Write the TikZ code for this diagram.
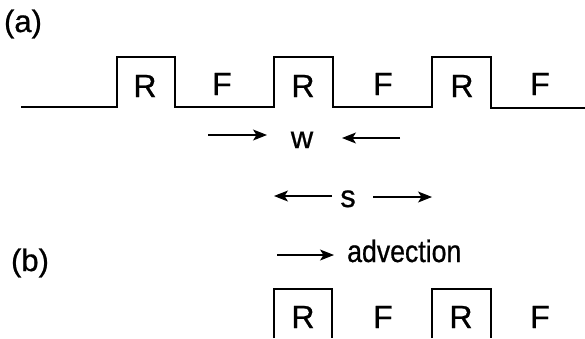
\documentclass[tikz,border=0pt]{standalone}
\usepackage{fontspec}
\setmainfont{Liberation Sans}
\newfontfamily\heavy{Liberation Sans}[FakeBold=0.7]
\newfontfamily\heavynarrow{Liberation Sans}[FakeBold=0.7,FakeStretch=0.86]
\usetikzlibrary{arrows.meta}
\begin{document}
\begin{tikzpicture}[x=1pt,y=-1pt,
  lbl/.style={inner sep=0pt,anchor=base,font=\heavy\fontsize{32}{34}\selectfont},
  sm/.style={inner sep=0pt,anchor=base,font=\heavy\fontsize{31}{33}\selectfont},
  wave/.style={line width=1.5pt,line join=miter},
  arr/.style={line width=1.1pt,-{Stealth[length=14pt,width=11pt,inset=3.5pt]}}]
\useasboundingbox (0,0) rectangle (585,338);
\fill[white] (0,0) rectangle (585,338);
% (a) waveform
\draw[wave] (21,107) -- (117,107) -- (117,57) -- (175,57) -- (175,107)
  -- (274,107) -- (274,57) -- (333,57) -- (333,107)
  -- (432,107) -- (432,57) -- (491,57) -- (491,108) -- (585,108);
\node[sm,anchor=center] (la) at (23,24) {(a)};
\node[lbl] (r1) at (145,97) {R};
\node[lbl] (f1) at (222,95) {F};
\node[lbl] (r2) at (303,97) {R};
\node[lbl] (f2) at (383,95) {F};
\node[lbl] (r3) at (462,97) {R};
\node[lbl] (f3) at (540,95) {F};
% w
\node[sm] (w) at (302,148) {w};
\coordinate (w1) at (208,135);
\coordinate (w2) at (267,135);
\coordinate (w3) at (400,138);
\coordinate (w4) at (342,138);
\draw[arr] (w1) -- (w2);
\draw[arr] (w3) -- (w4);
% s
\node[sm] (s) at (348,207) {s};
\coordinate (s1) at (332,196);
\coordinate (s2) at (274,196);
\coordinate (s3) at (373,197);
\coordinate (s4) at (432,197);
\draw[arr] (s1) -- (s2);
\draw[arr] (s3) -- (s4);
% (b)
\node[sm,anchor=center] (lb) at (30,263) {(b)};
\node[inner sep=0pt,anchor=base west,font=\heavynarrow\fontsize{31}{33}\selectfont] (adv) at (347,262) {advection};
\coordinate (a1) at (277,255);
\coordinate (a2) at (334,255);
\draw[arr] (a1) -- (a2);
\coordinate (b1) at (274,338);
\coordinate (b2) at (332,338);
\coordinate (b3) at (432,338);
\coordinate (b4) at (491,338);
\draw[wave] (b1) |- (332,289) -- (b2);
\draw[wave] (b3) |- (491,289) -- (b4);
\node[lbl] (r4) at (303,328) {R};
\node[lbl] (f4) at (383,328) {F};
\node[lbl] (r5) at (461,328) {R};
\node[lbl] (f5) at (540,328) {F};
\end{tikzpicture}
\end{document}
